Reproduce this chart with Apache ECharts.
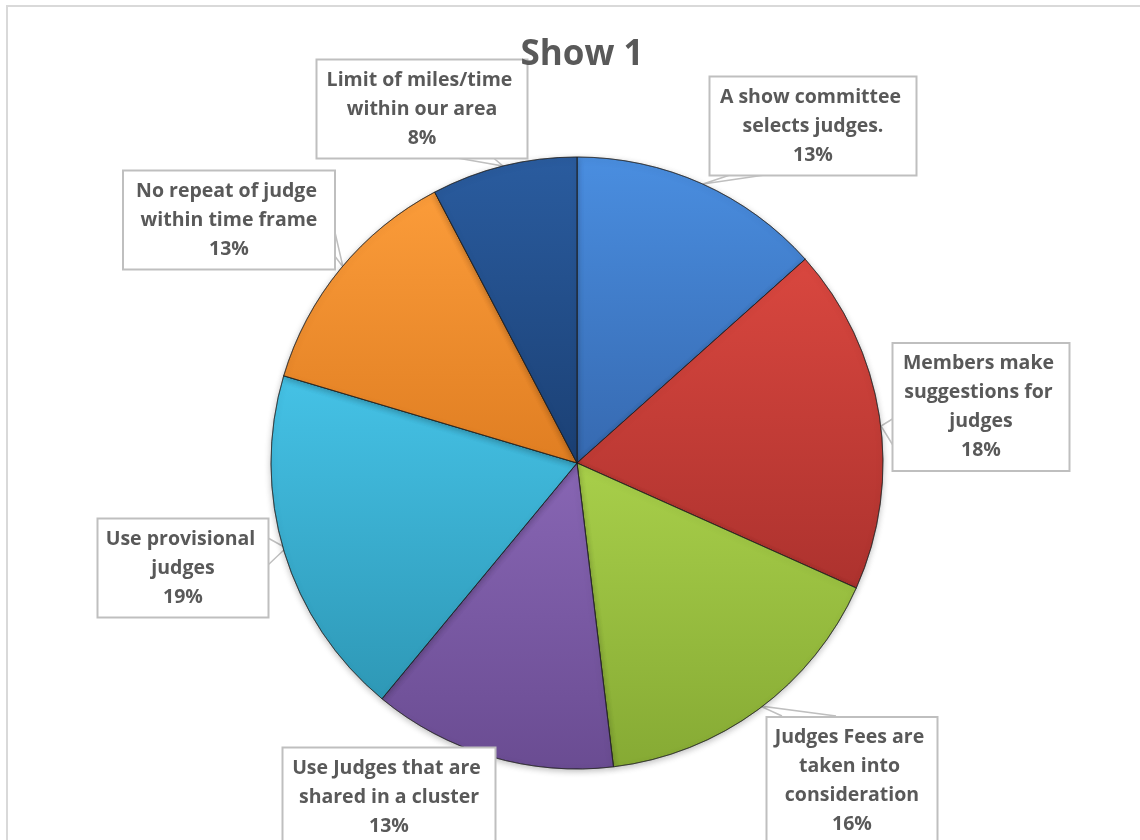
<!DOCTYPE html>
<html>
<head>
<meta charset="utf-8">
<title>Show 1</title>
<script src="https://cdn.jsdelivr.net/npm/echarts@6/dist/echarts.min.js"></script>
<style>
  html, body { margin: 0; padding: 0; background: #fff; }
  #chart { width: 1140px; height: 840px; }
</style>
</head>
<body>
<div id="chart"></div>
<script>
// categories, clockwise from 12 o'clock
var categories = [
  'A show committee selects judges.',
  'Members make suggestions for judges',
  'Judges Fees are taken into consideration',
  'Use Judges that are shared in a cluster',
  'Use provisional judges',
  'No repeat of judge within time frame',
  'Limit of miles/time within our area'
]
// share of answers (%)
var values = [13.4, 18.3, 16.4, 12.9, 18.6, 12.7, 7.7]

var colors = [
  ['#4a8ee0', '#3669b0'],
  ['#d9473f', '#ad322e'],
  ['#a8cf4a', '#86aa34'],
  ['#8866b4', '#6a4c92'],
  ['#45c2e6', '#2e98b6'],
  ['#fb9c3a', '#e07e22'],
  ['#2a5c9f', '#1b4074']
]

// callout boxes: centre, width, and the callout wedge (box edge, pie tip, box edge)
var boxes = [
  { cx: 813, cy: 126, w: 205, pts: [[742, 171], [703, 184], [792, 171]] },
  { cx: 981, cy: 407, w: 175, pts: [[894, 418], [881, 426], [894, 447]] },
  { cx: 852, cy: 781, w: 169, pts: [[782, 716], [760, 706], [836, 716]] },
  { cx: 389, cy: 797, w: 211, pts: null },
  { cx: 183, cy: 568, w: 169, pts: [[268, 538], [286, 548], [268, 565]] },
  { cx: 229, cy: 220, w: 210, pts: [[334, 228], [343, 267], [334, 255]] },
  { cx: 422, cy: 109, w: 209, pts: [[440, 155], [503, 166], [490, 155]] }
]

var chart = echarts.init(document.getElementById('chart'))

var pieData = categories.map(function (name, i) {
  return {
    name: name,
    value: values[i],
    itemStyle: {
      color: new echarts.graphic.LinearGradient(0, 0, 0, 1, [
        { offset: 0, color: colors[i][0] },
        { offset: 1, color: colors[i][1] }
      ])
    },
    label: { width: boxes[i].w - 8 },
    labelLine: { show: !!boxes[i].pts }
  }
})

chart.setOption({
  backgroundColor: '#ffffff',
  title: {
    text: 'Show 1',
    left: 577,
    top: 33,
    textAlign: 'center',
    textStyle: {
      fontFamily: 'Open Sans',
      fontWeight: 'bold',
      fontSize: 35,
      color: '#595959'
    }
  },
  graphic: [{
    type: 'rect',
    shape: { x: 7, y: 6, width: 1200, height: 900 },
    style: { fill: 'none', stroke: '#d9d9d9', lineWidth: 2 },
    silent: true
  }],
  series: [{
    type: 'pie',
    center: [577, 463],
    radius: [0, 306],
    startAngle: 90,
    clockwise: true,
    avoidLabelOverlap: false,
    itemStyle: {
      borderColor: 'rgba(30,30,30,0.55)',
      borderWidth: 1,
      shadowColor: 'rgba(0,0,0,0.25)',
      shadowBlur: 6,
      shadowOffsetY: 2
    },
    label: {
      show: true,
      position: 'outside',
      formatter: function (p) {
        return p.name + '\n' + Math.round(p.percent) + '%'
      },
      overflow: 'break',
      align: 'center',
      fontFamily: 'Open Sans',
      fontWeight: 'bold',
      fontSize: 19.5,
      lineHeight: 29,
      color: '#595959',
      backgroundColor: '#ffffff',
      borderColor: '#bfbfbf',
      borderWidth: 2,
      padding: [5, 4]
    },
    labelLine: {
      show: true,
      lineStyle: { color: '#bfbfbf', width: 1.5 }
    },
    labelLayout: function (params) {
      var b = boxes[params.dataIndex]
      var res = { x: b.cx, y: b.cy, align: 'center', verticalAlign: 'middle' }
      if (b.pts) res.labelLinePoints = b.pts
      return res
    },
    emphasis: { disabled: true },
    data: pieData
  }]
})
</script>
</body>
</html>
